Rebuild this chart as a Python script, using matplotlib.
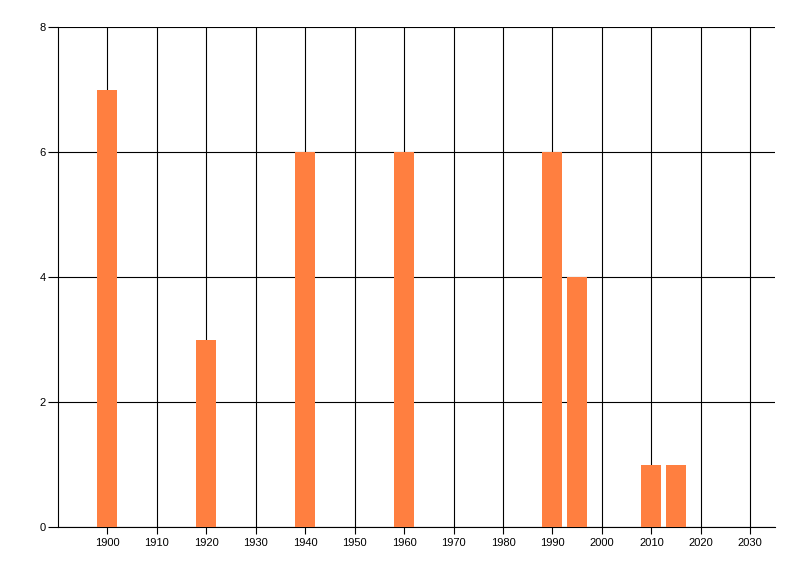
import matplotlib
matplotlib.use('Agg')
import matplotlib.pyplot as plt

# Data
years = [1900, 1920, 1940, 1960, 1990, 1995, 2010, 2015]
counts = [7, 3, 6, 6, 6, 4, 1, 1]
xticks = list(range(1900, 2031, 10))
yticks = [0, 2, 4, 6, 8]

plt.rcParams['font.family'] = ['Liberation Sans', 'DejaVu Sans']

fig = plt.figure(figsize=(8, 5.76), dpi=100)
ax = fig.add_axes([58 / 800, 1 - 527 / 576, (775 - 58) / 800, 500 / 576])

# Bars sit on top of the grid
ax.bar(years, counts, width=4.05, color='#FF7F40', zorder=3)

ax.set_xlim(1890, 2035)
ax.set_ylim(0, 8)
ax.set_xticks(xticks)
ax.set_xticklabels([str(x) for x in xticks])
ax.set_yticks(yticks)
ax.set_yticklabels([str(y) for y in yticks])

# Black grid lines, 1px wide
ax.grid(True, color='black', linewidth=0.8, zorder=0)
ax.set_axisbelow(True)

for side in ['top', 'right']:
    ax.spines[side].set_visible(False)
for side in ['left', 'bottom']:
    ax.spines[side].set_linewidth(0.8)
    ax.spines[side].set_color('black')

ax.tick_params(axis='x', length=5, width=0.8, labelsize=8, pad=3)
ax.tick_params(axis='y', length=7, width=0.8, labelsize=8, pad=2)

fig.savefig('out.png', dpi=100)
